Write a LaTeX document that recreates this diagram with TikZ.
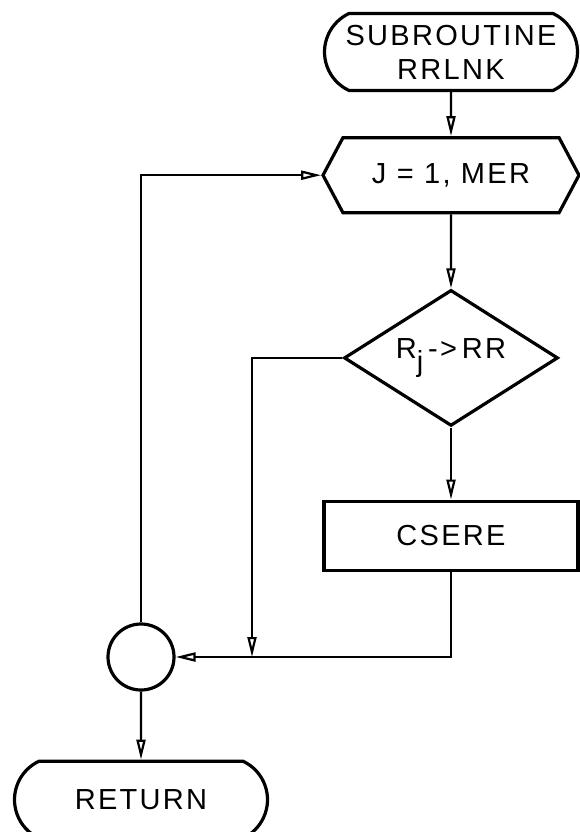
\documentclass[tikz,border=0pt]{standalone}
\usepackage{fontspec}
\setmainfont{Liberation Sans}[LetterSpace=8]
\usetikzlibrary{arrows.meta,positioning,shapes.geometric,shapes.misc,shapes.symbols}

\begin{document}
\begin{tikzpicture}[
        x=1pt, y=-1pt,
        font=\fontsize{29}{34}\selectfont,
        term/.style={draw, rounded rectangle, rounded rectangle arc length=130, line width=3.2pt, align=center, minimum width=253pt, minimum height=77pt, inner sep=0pt},
        prep/.style={draw, signal, signal to=west and east, signal pointer angle=124, line width=3.2pt, minimum width=256pt, minimum height=75pt, inner sep=0pt},
        dec/.style={draw, diamond, aspect=1.6, line width=3.2pt, minimum width=214pt, minimum height=136pt, inner sep=0pt},
        box/.style={draw, rectangle, line width=3.2pt, minimum width=254pt, minimum height=69pt, inner sep=0pt},
        joint/.style={draw, circle, line width=3.2pt, minimum size=66pt, inner sep=0pt},
        arr/.style={-{Triangle[open, length=20pt, width=9pt]}, line width=2.2pt}
    ]
        \path[use as bounding box, fill=white] (0,0) rectangle (579,832);
        \node[term] (start) at (451,52) {SUBROUTINE\\RRLNK};
        \node[prep, below=44pt of start] (loop) {J = 1, MER};
        \node[dec, below=74pt of loop] (test) {R\raisebox{-0.45em}{j}\,->\,RR};
        \node[box, below=72pt of test] (csere) {CSERE};
        \node[joint] (join) at (141,657) {};
        \node[term, below=68pt of join] (ret) {RETURN};
        \coordinate (skip) at (252,657);
        \draw[arr] (start) -- (loop);
        \draw[arr] (loop) -- (test);
        \draw[arr] (test) -- (csere);
        \draw[arr] (test.west) -| (skip);
        \draw[arr] (csere.south) |- (join.east);
        \draw[arr] (join.north) |- (loop.west);
        \draw[arr] (join) -- (ret);
    \end{tikzpicture}
\end{document}
